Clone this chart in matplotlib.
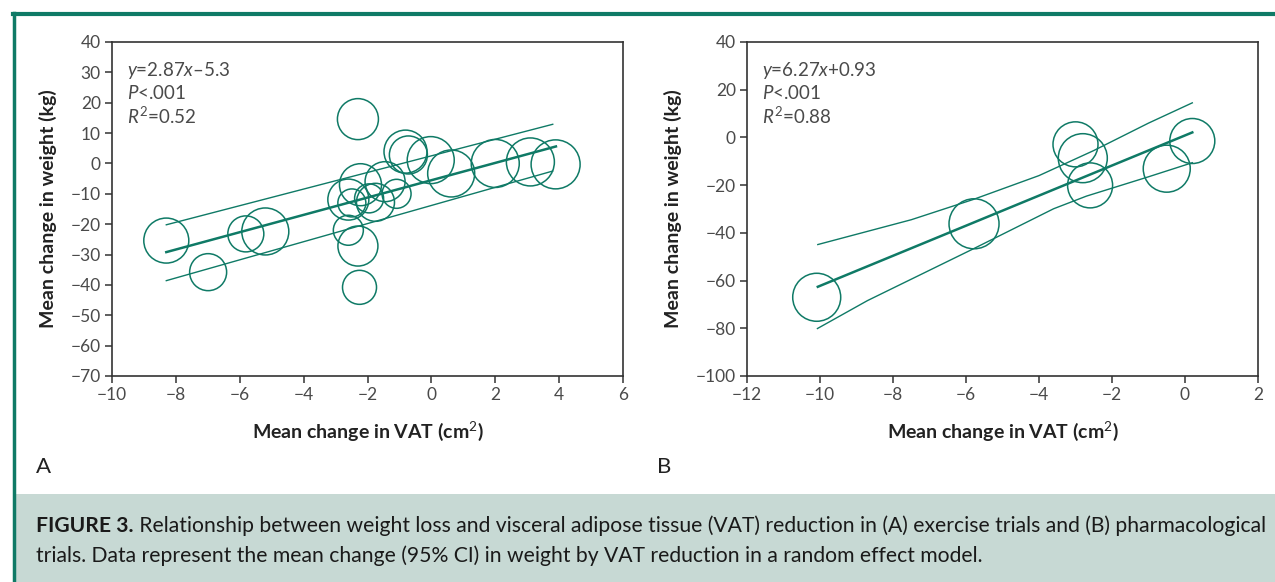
import matplotlib
matplotlib.use("Agg")
import matplotlib.pyplot as plt
from matplotlib.patches import Rectangle
from matplotlib.lines import Line2D

# ---------------------------------------------------------------------------
# Data
# ---------------------------------------------------------------------------
# Panel A: exercise trials (VAT change, weight change, relative study weight)
vat_a = [-8.30, -6.99, -5.81, -5.20, -2.30, -2.25, -2.30, -2.60,
         -2.22, -2.60, -2.49, -1.95, -1.75, -1.45, -1.09,
         -0.81, -0.72, -0.02, 0.62, 2.00, 3.10, 3.89]
wt_a = [-25.4, -35.8, -23.2, -22.4, 14.6, -40.8, -27.2, -22.0,
        -7.0, -11.9, -13.0, -11.5, -12.8, -6.0, -10.0,
        3.9, 2.8, 1.1, -3.3, 0.0, 0.5, -0.3]
w_a = [45, 37, 36, 47, 41, 34, 40, 30,
       42, 41, 28, 29, 38, 40, 29,
       43, 38, 47, 47, 48, 48, 49]

fit_a_x = [-8.3, 3.9]
fit_a_y = [-29.2, 5.6]
ci_hi_a_x = [-8.3, 3.8]
ci_hi_a_y = [-20.2, 12.9]
ci_lo_a_x = [-8.3, 3.8]
ci_lo_a_y = [-38.6, -2.5]

# Panel B: pharmacological trials
vat_b = [-10.09, -5.78, -3.00, -2.80, -2.60, -0.50, 0.20]
wt_b = [-67.0, -36.2, -2.9, -8.7, -20.1, -13.1, -1.5]
w_b = [48, 50, 45, 49, 45, 47, 45]

fit_b_x = [-10.06, 0.2]
fit_b_y = [-62.6, 2.1]
ci_hi_b_x = [-10.06, -7.5, -5.8, -4.0, -2.5, -1.0, 0.2]
ci_hi_b_y = [-44.9, -34.5, -26.0, -16.0, -5.5, 6.0, 14.5]
ci_lo_b_x = [-10.07, -8.7, -5.8, -3.6, -2.7, -1.0, 0.2]
ci_lo_b_y = [-80.1, -68.4, -46.7, -29.9, -24.6, -16.5, -10.6]

stats_a = ["$\\mathit{y}$=2.87$\\mathit{x}$\u20135.3", "$\\mathit{P}$<.001",
           "$\\mathit{R}^2$=0.52"]
stats_b = ["$\\mathit{y}$=6.27$\\mathit{x}$+0.93", "$\\mathit{P}$<.001",
           "$\\mathit{R}^2$=0.88"]

caption_bold = "FIGURE 3."
caption_l1 = (" Relationship between weight loss and visceral adipose tissue (VAT) "
              "reduction in (A) exercise trials and (B) pharmacological")
caption_l2 = ("trials. Data represent the mean change (95% CI) in weight by VAT "
              "reduction in a random effect model.")

# ---------------------------------------------------------------------------
GREEN = "#0f7a66"
TXT = "#4a4a4a"
W, H = 1275, 582

plt.rcParams.update({
    "font.family": ["Lato", "DejaVu Sans"],
    "mathtext.fontset": "custom",
    "mathtext.rm": "Lato",
    "mathtext.it": "Lato:italic",
    "mathtext.bf": "Lato:bold",
    "axes.edgecolor": "#333333",
    "axes.linewidth": 1.2,
})

fig = plt.figure(figsize=(W / 100, H / 100), dpi=100)


def px_rect(x0, y0, x1, y1):
    # pixel box (top-left origin) -> figure fraction [l, b, w, h]
    return [x0 / W, 1 - y1 / H, (x1 - x0) / W, (y1 - y0) / H]


def draw_panel(ax, x, y, w, fx, fy, hx, hy, lx, ly, stats, xlim, ylim, xticks, yticks):
    ax.plot(hx, hy, color=GREEN, lw=1.0, zorder=2)
    ax.plot(lx, ly, color=GREEN, lw=1.0, zorder=2)
    ax.plot(fx, fy, color=GREEN, lw=1.8, zorder=2)
    ax.scatter(x, y, s=[(d * 0.72) ** 2 for d in w], facecolors="none",
               edgecolors=GREEN, linewidths=1.1, zorder=3)
    ax.set_xlim(*xlim)
    ax.set_ylim(*ylim)
    ax.set_xticks(xticks)
    ax.set_yticks(yticks)
    ax.set_xticklabels([f"{t}".replace("-", "\u2212") for t in xticks])
    ax.set_yticklabels([f"{t}".replace("-", "\u2212") for t in yticks])
    ax.tick_params(direction="out", length=5, width=1.1, colors="#333333",
                   labelsize=12.5, labelcolor=TXT, pad=3)
    ax.set_xlabel("Mean change in VAT (cm$^2$)", fontsize=14, fontweight="bold",
                  color="#222222", labelpad=12)
    ax.set_ylabel("Mean change in weight (kg)", fontsize=14, fontweight="bold",
                  color="#222222", labelpad=10)
    for i, s in enumerate(stats):
        ax.text(0.03, 0.915 - i * 0.069, s, transform=ax.transAxes, fontsize=13.5,
                color=TXT, va="center", ha="left")


ax_a = fig.add_axes(px_rect(112, 42, 623, 376))
draw_panel(ax_a, vat_a, wt_a, w_a, fit_a_x, fit_a_y, ci_hi_a_x, ci_hi_a_y,
           ci_lo_a_x, ci_lo_a_y, stats_a, (-10, 6), (-70, 40),
           list(range(-10, 7, 2)), list(range(-70, 41, 10)))

ax_b = fig.add_axes(px_rect(747, 42, 1258, 376))
draw_panel(ax_b, vat_b, wt_b, w_b, fit_b_x, fit_b_y, ci_hi_b_x, ci_hi_b_y,
           ci_lo_b_x, ci_lo_b_y, stats_b, (-12, 2), (-100, 40),
           list(range(-12, 3, 2)), list(range(-100, 41, 20)))

# panel letters
fig.text(36 / W, 1 - 467 / H, "A", fontsize=16, color="#222222", va="center", ha="left")
fig.text(657 / W, 1 - 467 / H, "B", fontsize=16, color="#222222", va="center", ha="left")

# frame: green top and left rules, caption box
fig.add_artist(Rectangle((15 / W, 0), 1 - 15 / W, 1 - 494 / H,
                         transform=fig.transFigure, facecolor="#c7d9d4",
                         edgecolor="none", zorder=0))
fig.add_artist(Line2D([13 / W, 1], [1 - 14 / H, 1 - 14 / H], transform=fig.transFigure,
                      color=GREEN, lw=3.0))
fig.add_artist(Line2D([13.5 / W, 13.5 / W], [0, 1 - 12.5 / H], transform=fig.transFigure,
                      color=GREEN, lw=2.5))

# caption: size chosen so line 1 spans the same width as the reference
cap_size = 12.2
t0 = fig.text(36 / W, 1 - 526 / H, caption_bold, fontsize=cap_size, fontweight="bold",
              color="#1a1a1a", va="center", ha="left")
t1 = fig.text(0, 1 - 526 / H, caption_l1, fontsize=cap_size, color="#1a1a1a",
              va="center", ha="left")
fig.canvas.draw()
r = fig.canvas.get_renderer()
span = t0.get_window_extent(r).width + t1.get_window_extent(r).width
cap_size *= (1262 - 36) / span
t0.set_fontsize(cap_size)
t1.set_fontsize(cap_size)
fig.canvas.draw()
bb = t0.get_window_extent(r)
t1.set_x(bb.x1 / W)
fig.text(36 / W, 1 - 556 / H, caption_l2, fontsize=cap_size, color="#1a1a1a",
         va="center", ha="left")

fig.savefig("out.png", dpi=100)
